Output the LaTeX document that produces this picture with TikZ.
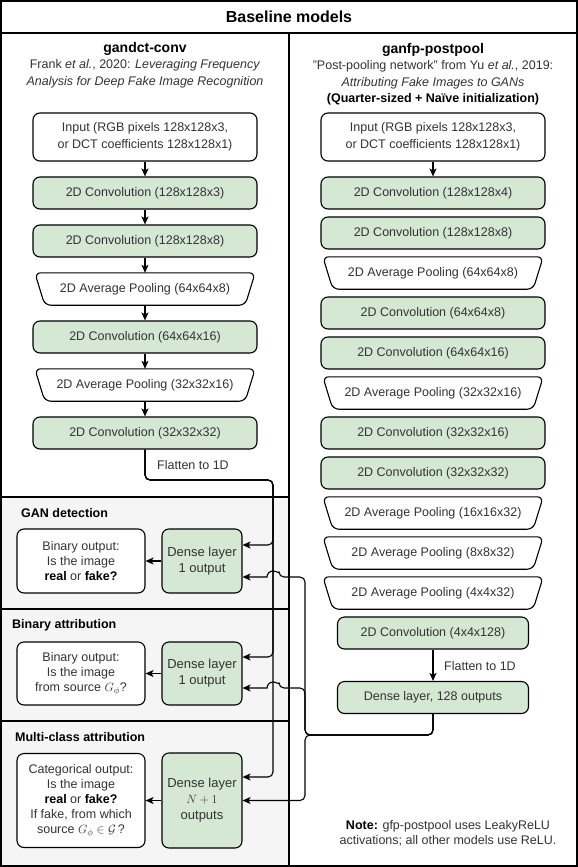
\documentclass[tikz,border=0pt]{standalone}
\usepackage{amsmath, amssymb}
\usepackage{fontspec}
\setmainfont{Liberation Sans}
\usepackage{tikz}
\usetikzlibrary{arrows.meta, positioning, shapes.geometric}
\usepackage{xcolor}
\definecolor{convgreen}{HTML}{D5E8D4}
\definecolor{panelgray}{HTML}{F5F5F5}
\definecolor{boxtext}{HTML}{333333}

\begin{document}
\begin{tikzpicture}[x=1pt, y=1pt, node distance=40pt,
  >={Stealth[length=8pt, width=7pt, inset=2pt]},
  frame/.style={line width=1.6pt},
  txt/.style={font=\fontsize{12.5}{15}\selectfont, text=boxtext},
  box/.style={txt, draw, line width=1.1pt, rounded corners=7pt, align=center},
  conv/.style={box, fill=convgreen, minimum width=224pt, minimum height=32pt},
  inbox/.style={box, fill=white, minimum width=224pt, minimum height=48pt, font=\fontsize{12.5}{16.5}\selectfont},
  pool/.style={txt, minimum width=220pt, minimum height=32pt},
  poolline/.style={line width=1.1pt, rounded corners=6pt},
  dense/.style={box, fill=convgreen, minimum width=80pt, font=\fontsize{13}{16}\selectfont},
  outbox/.style={box, fill=white, minimum width=128pt},
  section/.style={font=\bfseries\fontsize{12.5}{15}\selectfont, anchor=west, inner sep=0pt},
  link/.style={->, line width=1.1pt},
  flow/.style={->, line width=1.1pt, rounded corners=5pt}
]
\useasboundingbox (0,0) rectangle (578,-867);

% panels and frame
\fill[panelgray] (1,-497) rectangle (288,-866);
\draw[frame] (0,-497) -- (289,-497);
\draw[frame] (0,-609) -- (289,-609);
\draw[frame] (0,-721) -- (289,-721);
\draw[frame] (289,-33) -- (289,-866);
\draw[frame] (0,-33) -- (578,-33);
\draw[frame] (1,-1) rectangle (577,-866);

\node (title) [font=\bfseries\fontsize{16}{19}\selectfont] at (289,-17) {Baseline models};

% gandct-conv
\node (dcthead) [txt, align=center, font=\fontsize{12.5}{16.5}\selectfont] at (145,-65)
  {{\bfseries\fontsize{14}{16.5}\selectfont\color{black} gandct-conv}\\
   Frank \textit{et al.}, 2020: \textit{Leveraging Frequency}\\
   \textit{Analysis for Deep Fake Image Recognition}};
\node (dctin) [inbox] at (145,-137) {Input (RGB pixels 128x128x3,\\or DCT coefficients 128x128x1)};
\node (dctA) [conv, below of=dctin, node distance=56pt] {2D Convolution (128x128x3)};
\node (dctB) [conv, below of=dctA, node distance=48pt] {2D Convolution (128x128x8)};
\node (dctpoolA) [pool, below of=dctB, node distance=48pt] {2D Average Pooling (64x64x8)};
\node (dctC) [conv, below of=dctpoolA, node distance=48pt] {2D Convolution (64x64x16)};
\node (dctpoolB) [pool, below of=dctC, node distance=48pt] {2D Average Pooling (32x32x16)};
\node (dctD) [conv, below of=dctpoolB, node distance=48pt] {2D Convolution (32x32x32)};

\path[link] (dctin) edge (dctA);
\path[link] (dctA) edge (dctB);
\path[link] (dctB) edge (dctpoolA);
\path[link] (dctpoolA) edge (dctC);
\path[link] (dctC) edge (dctpoolB);
\path[link] (dctpoolB) edge (dctD);

% ganfp-postpool
\node (fphead) [txt, align=center, font=\fontsize{12.5}{16.5}\selectfont] at (433,-74)
  {{\bfseries\fontsize{14}{16.5}\selectfont\color{black} ganfp-postpool}\\
   "Post-pooling network" from Yu \textit{et al.}, 2019:\\
   \textit{Attributing Fake Images to GANs}\\
   {\bfseries\color{black} (Quarter-sized + Naïve initialization)}};
\node (fpin) [inbox] at (433,-137) {Input (RGB pixels 128x128x3,\\or DCT coefficients 128x128x1)};
\node (fpA) [conv, below of=fpin, node distance=56pt] {2D Convolution (128x128x4)};
\node (fpB) [conv, below of=fpA] {2D Convolution (128x128x8)};
\node (fppoolA) [pool, below of=fpB] {2D Average Pooling (64x64x8)};
\node (fpC) [conv, below of=fppoolA] {2D Convolution (64x64x8)};
\node (fpD) [conv, below of=fpC] {2D Convolution (64x64x16)};
\node (fppoolB) [pool, below of=fpD] {2D Average Pooling (32x32x16)};
\node (fpE) [conv, below of=fppoolB] {2D Convolution (32x32x16)};
\node (fpF) [conv, below of=fpE] {2D Convolution (32x32x32)};
\node (fppoolC) [pool, below of=fpF] {2D Average Pooling (16x16x32)};
\node (fppoolD) [pool, below of=fppoolC] {2D Average Pooling (8x8x32)};
\node (fppoolE) [pool, below of=fppoolD] {2D Average Pooling (4x4x32)};
\node (fpG) [conv, minimum width=191pt, below of=fppoolE] {2D Convolution (4x4x128)};
\node (fpdense) [conv, minimum width=191pt, below of=fpG, node distance=64.5pt] {Dense layer, 128 outputs};

% pooling outlines
\foreach \p in {dctpoolA, dctpoolB, fppoolA, fppoolB, fppoolC, fppoolD, fppoolE}
  \draw[poolline] (\p.north west) -- (\p.north east) -- ([xshift=-10pt]\p.south east)
    -- ([xshift=10pt]\p.south west) -- cycle;

\path[link] (fpin) edge (fpA);
\path[link] (fpG) edge (fpdense);
\node (flatR) [txt, anchor=west, inner sep=0pt] at (444,-666) {Flatten to 1D};

\node (note) [txt, align=center] at (448,-833)
  {{\bfseries\color{black} Note:} gfp-postpool uses LeakyReLU\\activations; all other models use ReLU.};

% tasks
\node (gansec) [section] at (21,-513) {GAN detection};
\node (binsec) [section] at (12,-625) {Binary attribution};
\node (mcsec) [section] at (15,-737) {Multi-class attribution};

\node (gandense) [dense, minimum height=64pt] at (202,-561) {Dense layer\\1 output};
\node (ganout) [outbox, minimum height=64pt, left of=gandense, node distance=121pt]
  {Binary output:\\Is the image\\{\bfseries\color{black} real} or {\bfseries\color{black} fake?}};
\node (bindense) [dense, minimum height=63pt] at (202,-673.5) {Dense layer\\1 output};
\node (binout) [outbox, minimum height=63pt, left of=bindense, node distance=121pt]
  {Binary output:\\Is the image\\from source $G_\phi$?};
\node (mcdense) [dense, minimum height=95pt] at (202,-800.5) {Dense layer\\$N+1$\\outputs};
\node (mcout) [outbox, minimum height=94pt, left of=mcdense, node distance=121pt]
  {Categorical output:\\Is the image\\{\bfseries\color{black} real} or {\bfseries\color{black} fake?}\\If fake, from which\\source $G_\phi \in \mathcal{G}$\,?};

\path[link] (gandense) edge (ganout);
\path[link] (bindense) edge (binout);
\path[link] (mcdense) edge (mcout);

% flattened features into the task heads
\coordinate (bendL) at (273,-480);
\coordinate (bendR) at (305,-735);
\coordinate (hopG) at (279,-577);
\coordinate (hopB) at (279,-688);
\node (flatL) [txt, anchor=west, inner sep=0pt] at (157,-465) {Flatten to 1D};

\draw[flow] (dctD.south) |- (bendL) |- ([yshift=16pt]gandense.east);
\draw[flow] (dctD.south) |- (bendL) |- ([yshift=16.5pt]bindense.east);
\draw[flow] (dctD.south) |- (bendL) |- ([yshift=23.5pt]mcdense.east);

\draw[flow] (fpdense.south) |- (bendR) |- (hopG) [sharp corners]
  arc[start angle=0, end angle=180, radius=6pt] -- ([yshift=-16pt]gandense.east);
\draw[flow] (fpdense.south) |- (bendR) |- (hopB) [sharp corners]
  arc[start angle=0, end angle=180, radius=6pt] -- ([yshift=-14.5pt]bindense.east);
\draw[flow] (fpdense.south) |- (bendR) |- (mcdense.east);
\end{tikzpicture}
\end{document}
